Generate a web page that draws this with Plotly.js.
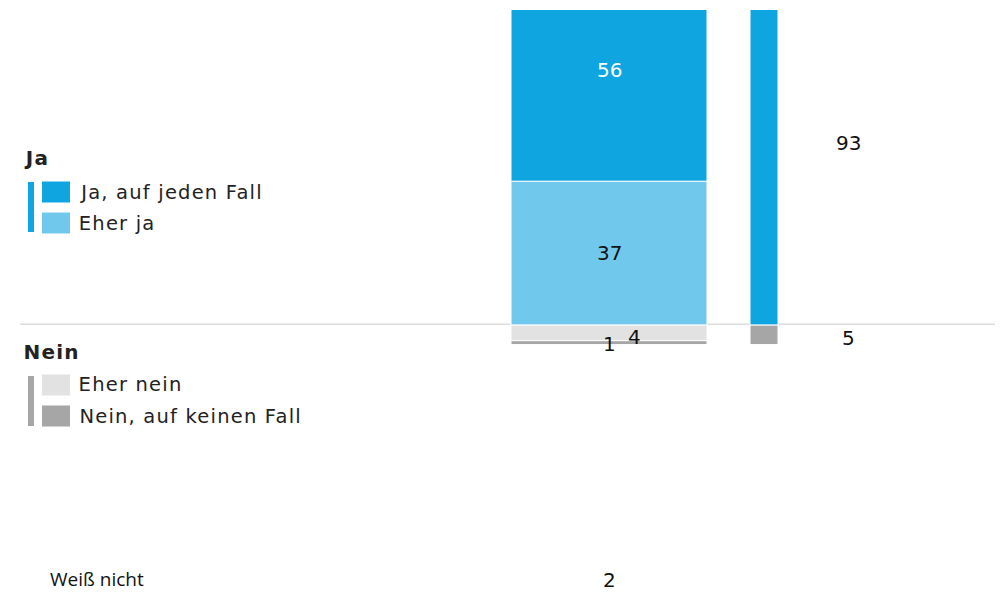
<!DOCTYPE html>
<html><head><meta charset="utf-8">
<script src="https://cdn.plot.ly/plotly-3.0.1.min.js"></script>
<style>html,body{margin:0;padding:0;background:#fff}#c{width:1000px;height:592px}
.lg .annotation-text{letter-spacing:1.2px}</style>
</head><body><div id="c"></div>
<script>
const categories = ["Ja, auf jeden Fall", "Eher ja", "Eher nein", "Nein, auf keinen Fall"];
const values = [56, 37, 4, 1];
const groups = ["Ja", "Nein"];
const groupTotals = [93, 5];
const dontKnowLabel = "Weiß nicht";
const dontKnow = 2;
const colors = {jaFall:"#0ea5e0", eherJa:"#70c9ec", eherNein:"#e2e2e2", nein:"#a6a6a6"};

const xMain = 609, wMain = 196, xSum = 764, wSum = 28;
const line = {color:"#ffffff", width:1};
const traces = [
  {type:"bar", x:[xMain], y:[values[1]], width:[wMain], marker:{color:colors.eherJa, line}, name:categories[1]},
  {type:"bar", x:[xMain], y:[values[0]], width:[wMain], marker:{color:colors.jaFall, line}, name:categories[0]},
  {type:"bar", x:[xMain], y:[-values[2]], width:[wMain], marker:{color:colors.eherNein, line}, name:categories[2]},
  {type:"bar", x:[xMain], y:[-values[3]], width:[wMain], marker:{color:colors.nein, line}, name:categories[3]},
  {type:"bar", x:[xSum], y:[groupTotals[0]], width:[wSum], marker:{color:colors.jaFall, line}, name:groups[0]},
  {type:"bar", x:[xSum], y:[-groupTotals[1]], width:[wSum], marker:{color:colors.nein, line}, name:groups[1]}
];
traces.forEach(t=>{t.hoverinfo="skip";t.showlegend=false;t.cliponaxis=true;});

const F = "DejaVu Sans, Verdana, sans-serif";
const num = (text,x,y,color) => ({text:String(text), x, y, xref:"x", yref:"y", showarrow:false, font:{family:F,size:20,color:color||"#111"}, xanchor:"center", yanchor:"middle"});
const annotations = [
  num(values[0], xMain, values[1]+values[0]/2 + 0.5, "#ffffff"),
  num(values[1], xMain, values[1]/2, "#111"),
  num(values[2], xMain+25, -values[2]/2 - 1),
  num(values[3], xMain, -values[2]-values[3]/2 - 0.3),
  num(groupTotals[0], 848, groupTotals[0]/2 + 0.3),
  num(groupTotals[1], 848, -groupTotals[1]/2 - 0.8),
  num(dontKnow, xMain, -65.5),
  {text:dontKnowLabel, x:48, y:-65.3, xref:"x", yref:"y", showarrow:false, xanchor:"left", yanchor:"middle", font:{family:"Open Sans, sans-serif", size:19, color:"#111"}}
];
const py = p => (592 - p)/582;
const LS = 1.2;
const lgText = (text, x, ypx, bold) => ({text: bold ? "<b>"+text+"</b>" : text, x: x + text.length*LS/2, y:py(ypx), xref:"x", yref:"paper", showarrow:false, xanchor:"left", yanchor:"middle", font:{family:F,size: bold ? 20 : 19.5,color:"#222"}, _lg:true});
annotations.push(lgText(groups[0], 22, 158, true));
annotations.push(lgText(groups[1], 22, 352, true));
const legY = [192, 223, 385, 416];
const legColors = [colors.jaFall, colors.eherJa, colors.eherNein, colors.nein];
const shapes = [];
categories.forEach((c,i)=>{
  annotations.push(lgText(c, 77, legY[i], false));
  shapes.push({type:"rect", xref:"x", yref:"paper", x0:42, x1:70, y0:py(legY[i]+10.5), y1:py(legY[i]-10.5), fillcolor:legColors[i], line:{width:0}});
});
shapes.push({type:"rect", xref:"x", yref:"paper", x0:28, x1:34, y0:py(232), y1:py(182), fillcolor:colors.jaFall, line:{width:0}});
shapes.push({type:"rect", xref:"x", yref:"paper", x0:28, x1:34, y0:py(426), y1:py(376), fillcolor:colors.nein, line:{width:0}});
shapes.push({type:"line", xref:"x", yref:"y", x0:20, x1:995, y0:0.25, y1:0.25, line:{color:"#dcdcdc", width:1.5}, layer:"below"});

const lgIdx = [];
annotations.forEach((a,i)=>{ if(a._lg){ lgIdx.push(i); delete a._lg; } });

const layout = {
  width:1000, height:592, margin:{l:0,r:0,t:10,b:0},
  paper_bgcolor:"#fff", plot_bgcolor:"#fff",
  barmode:"relative", bargap:0,
  xaxis:{range:[0,1000], visible:false, fixedrange:true},
  yaxis:{range:[-68.6, 81.0], visible:false, fixedrange:true},
  annotations, shapes, showlegend:false
};
Plotly.newPlot("c", traces, layout, {displayModeBar:false, staticPlot:true}).then(gd=>{
  const els = gd.querySelectorAll(".annotation");
  lgIdx.forEach(i=>{ if(els[i]) els[i].classList.add("lg"); });
});
</script></body></html>
